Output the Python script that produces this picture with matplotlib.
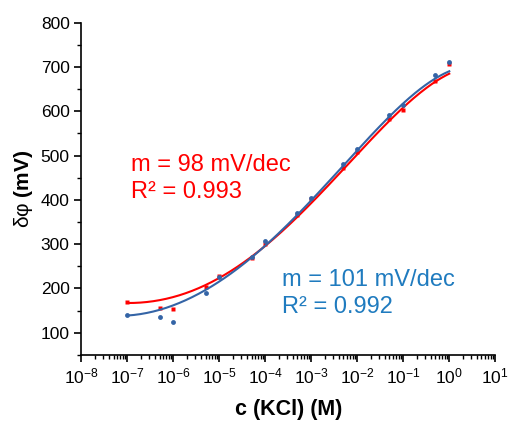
import numpy as np
import matplotlib.pyplot as plt
from matplotlib.ticker import LogLocator, MultipleLocator

plt.rcParams['font.family'] = 'Liberation Sans'
plt.rcParams['mathtext.fontset'] = 'custom'
plt.rcParams['mathtext.rm'] = 'Liberation Sans'
plt.rcParams['mathtext.it'] = 'Liberation Sans:italic'
plt.rcParams['mathtext.bf'] = 'Liberation Sans:bold'

# KCl concentrations (M) and measured potentials (mV)
conc = [1e-7, 5e-7, 1e-6, 5e-6, 1e-5, 5e-5, 1e-4, 5e-4, 1e-3,
        5e-3, 1e-2, 5e-2, 1e-1, 5e-1, 1.0]
red_mv = [169, 157, 154, 203, 229, 269, 301, 365, 401,
          471, 508, 582, 604, 668, 708]
blue_mv = [139, 136, 124, 190, 225, 270, 307, 370, 404,
           480, 514, 591, 614, 683, 711]

# fitted calibration curves, sampled every half decade (log10 c)
fit_logc = [-7, -6.5, -6, -5.5, -5, -4.5, -4, -3.5, -3,
            -2.5, -2, -1.5, -1, -0.5, 0]
red_fit = [167, 172, 179, 196, 226, 260, 297, 340, 390,
           446, 506, 560, 610, 648, 687]
blue_fit = [139, 148, 159, 183, 220, 256, 298, 342, 395,
            455, 516, 570, 619, 655, 693]

red_c = '#ff0000'
blue_c = '#3464a6'
blue_txt = '#1f7bbf'

fig = plt.figure(figsize=(5.09, 4.22), dpi=100)
ax = fig.add_axes([0.160, 0.159, 0.813, 0.787])

xx = np.linspace(min(fit_logc), max(fit_logc), 200)
for fit, vals, col, mk in [(red_fit, red_mv, red_c, 's'),
                           (blue_fit, blue_mv, blue_c, 'o')]:
    p = np.polyfit(fit_logc, fit, 5)
    ax.plot(10**xx, np.polyval(p, xx), color=col, lw=1.5)
    ax.plot(conc, vals, mk, color=col, ms=3.5, mec='none')

ax.set_xscale('log')
ax.set_xlim(1e-8, 1e1)
ax.set_ylim(50, 800)
ax.xaxis.set_major_locator(LogLocator(base=10, numticks=20))
ax.xaxis.set_minor_locator(LogLocator(base=10, subs=np.arange(2, 10), numticks=20))
ax.yaxis.set_major_locator(MultipleLocator(100))
ax.yaxis.set_minor_locator(MultipleLocator(50))
ax.set_yticks(np.arange(100, 801, 100))

for s in ['top', 'right']:
    ax.spines[s].set_visible(False)
for s in ['left', 'bottom']:
    ax.spines[s].set_linewidth(1.2)
ax.tick_params(which='major', direction='out', length=5, width=1.2, labelsize=12.5)
ax.tick_params(which='minor', direction='out', length=3, width=1)

ax.set_xlabel('c (KCl) (M)', fontsize=15.5, fontweight='bold', labelpad=9)
ax.set_ylabel(r'δφ $\mathbf{(mV)}$', fontsize=15, labelpad=4)

ax.text(0.12, 0.605, 'm = 98 mV/dec\nR² = 0.993', transform=ax.transAxes,
        color=red_c, fontsize=17, va='top', linespacing=1.3)
ax.text(0.484, 0.258, 'm = 101 mV/dec\nR² = 0.992', transform=ax.transAxes,
        color=blue_txt, fontsize=17, va='top', linespacing=1.3)

plt.savefig('out.png')
